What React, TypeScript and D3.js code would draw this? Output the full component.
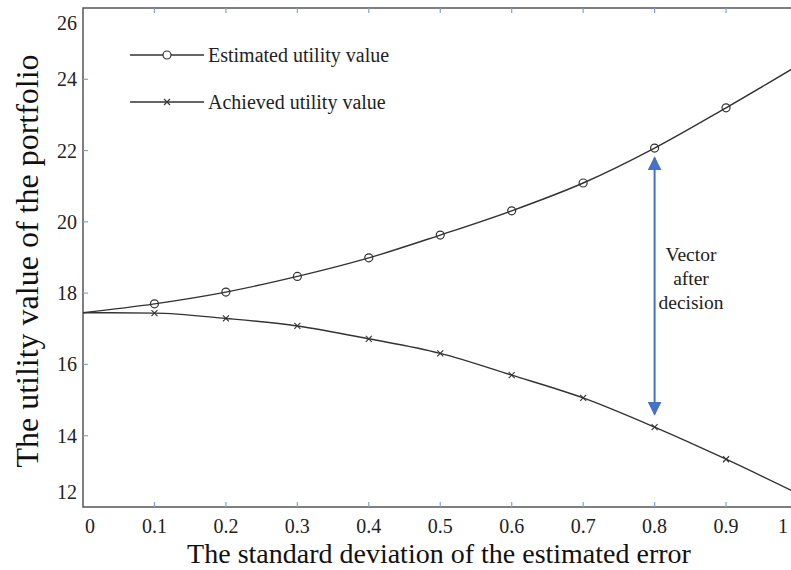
import * as d3 from "d3";
import { useRef, useEffect } from "react";

// standard deviation of the estimated error
const sigma = [0, 0.1, 0.2, 0.3, 0.4, 0.5, 0.6, 0.7, 0.8, 0.9, 1.0];
const estimated = [17.45, 17.7, 18.03, 18.47, 18.99, 19.63, 20.31, 21.09, 22.07, 23.2, 24.38];
const achieved = [17.45, 17.44, 17.29, 17.08, 16.72, 16.31, 15.7, 15.06, 14.24, 13.34, 12.38];
const xTicks = [0, 0.1, 0.2, 0.3, 0.4, 0.5, 0.6, 0.7, 0.8, 0.9, 1];
const yTicks = [12, 14, 16, 18, 20, 22, 24, 26];
const arrowAt = { x: 0.8, from: 14.6, to: 21.8 };
const noteLines = ["Vector", "after", "decision"];

const W = 791;
const H = 570;
const FONT = "'Liberation Serif', 'Times New Roman', serif";

export default function App() {
  const svgRef = useRef<SVGSVGElement>(null);

  useEffect(() => {
    if (!svgRef.current) return;
    const svg = d3.select(svgRef.current);
    svg.selectAll("*").remove();

    const x = d3.scaleLinear().domain([0, 1]).range([83, 797.5]);
    const y = d3.scaleLinear().domain([12, 26]).range([507, 8]);
    const left = 83, right = 797.5, top = 8, bottom = 507;

    const defs = svg.append("defs");
    defs.append("clipPath").attr("id", "plot-clip")
      .append("rect").attr("x", left).attr("y", top).attr("width", right - left).attr("height", bottom - top);
    defs.append("marker").attr("id", "arrow-head")
      .attr("viewBox", "0 0 10 10").attr("refX", 9).attr("refY", 5)
      .attr("markerWidth", 14).attr("markerHeight", 14).attr("markerUnits", "userSpaceOnUse")
      .attr("orient", "auto-start-reverse")
      .append("path").attr("d", "M0,0 L10,5 L0,10 Z").attr("fill", "#4472C4");

    // frame
    svg.append("rect")
      .attr("x", left).attr("y", top).attr("width", right - left).attr("height", bottom - top)
      .attr("fill", "none").attr("stroke", "#555").attr("stroke-width", 1.5);

    // ticks (inward, blue-ish)
    const tickCol = "#7fa3d6";
    xTicks.slice(1, -1).forEach((t) => {
      svg.append("line").attr("x1", x(t)).attr("x2", x(t)).attr("y1", bottom).attr("y2", bottom - 5)
        .attr("stroke", tickCol).attr("stroke-width", 1.2);
      svg.append("line").attr("x1", x(t)).attr("x2", x(t)).attr("y1", top).attr("y2", top + 5)
        .attr("stroke", tickCol).attr("stroke-width", 1.2);
    });
    yTicks.slice(1, -1).forEach((t) => {
      svg.append("line").attr("x1", left).attr("x2", left + 5).attr("y1", y(t)).attr("y2", y(t))
        .attr("stroke", tickCol).attr("stroke-width", 1.2);
    });

    // tick labels
    svg.append("g").selectAll("text").data(xTicks).enter().append("text")
      .attr("x", (d) => Math.min(Math.max(x(d), 90), 783))
      .attr("y", bottom + 26)
      .attr("text-anchor", "middle")
      .attr("font-family", FONT).attr("font-size", 20).attr("fill", "#222")
      .text((d) => String(d));
    svg.append("g").selectAll("text").data(yTicks).enter().append("text")
      .attr("x", left - 6)
      .attr("y", (d) => Math.min(Math.max(y(d), 23), 492) + 7)
      .attr("text-anchor", "end")
      .attr("font-family", FONT).attr("font-size", 20).attr("fill", "#222")
      .text((d) => String(d));

    // axis titles
    svg.append("text")
      .attr("x", 439).attr("y", 563).attr("text-anchor", "middle")
      .attr("font-family", FONT).attr("font-size", 28).attr("fill", "#111")
      .text("The standard deviation of the estimated error");
    svg.append("text")
      .attr("transform", `translate(38,261) rotate(-90)`)
      .attr("text-anchor", "middle")
      .attr("font-family", FONT).attr("font-size", 32).attr("fill", "#111")
      .text("The utility value of the portfolio");

    // curves
    const line = d3.line<number>()
      .x((_, i) => x(sigma[i]))
      .y((d) => y(d))
      .curve(d3.curveMonotoneX);
    const g = svg.append("g").attr("clip-path", "url(#plot-clip)");
    [estimated, achieved].forEach((s) => {
      g.append("path").attr("d", line(s)).attr("fill", "none")
        .attr("stroke", "#333").attr("stroke-width", 1.4);
    });

    const inner = sigma.slice(1, -1).map((_, k) => k + 1);
    g.selectAll(".est").data(inner).enter().append("circle")
      .attr("cx", (i) => x(sigma[i])).attr("cy", (i) => y(estimated[i])).attr("r", 4)
      .attr("fill", "none").attr("stroke", "#333").attr("stroke-width", 1.2);
    g.selectAll(".ach").data(inner).enter().append("path")
      .attr("transform", (i) => `translate(${x(sigma[i])},${y(achieved[i])})`)
      .attr("d", "M-3,-3L3,3M-3,3L3,-3")
      .attr("stroke", "#333").attr("stroke-width", 1.1);

    // arrow
    svg.append("line")
      .attr("x1", x(arrowAt.x)).attr("x2", x(arrowAt.x))
      .attr("y1", y(arrowAt.from)).attr("y2", y(arrowAt.to))
      .attr("stroke", "#4472C4").attr("stroke-width", 2)
      .attr("marker-start", "url(#arrow-head)").attr("marker-end", "url(#arrow-head)");
    svg.append("g").selectAll("text").data(noteLines).enter().append("text")
      .attr("x", 691).attr("y", (_, i) => 261 + i * 24)
      .attr("text-anchor", "middle")
      .attr("font-family", FONT).attr("font-size", 19.5).attr("fill", "#222")
      .text((d) => d);

    // legend
    const legend = [
      { label: "Estimated utility value", y: 55, mark: "o" },
      { label: "Achieved utility value", y: 102, mark: "x" },
    ];
    legend.forEach((l) => {
      svg.append("line").attr("x1", 130).attr("x2", 204).attr("y1", l.y).attr("y2", l.y)
        .attr("stroke", "#333").attr("stroke-width", 1.4);
      if (l.mark === "o") {
        svg.append("circle").attr("cx", 167).attr("cy", l.y).attr("r", 4)
          .attr("fill", "white").attr("stroke", "#333").attr("stroke-width", 1.2);
      } else {
        svg.append("path").attr("transform", `translate(167,${l.y})`)
          .attr("d", "M-3,-3L3,3M-3,3L3,-3").attr("stroke", "#333").attr("stroke-width", 1.1);
      }
      svg.append("text").attr("x", 208).attr("y", l.y + 7)
        .attr("font-family", FONT).attr("font-size", 20).attr("fill", "#222")
        .text(l.label);
    });
  }, []);

  return (
    <svg
      ref={svgRef}
      width={W}
      height={H}
      style={{ display: "block", position: "absolute", left: 0, top: 0, background: "white" }}
    />
  );
}
